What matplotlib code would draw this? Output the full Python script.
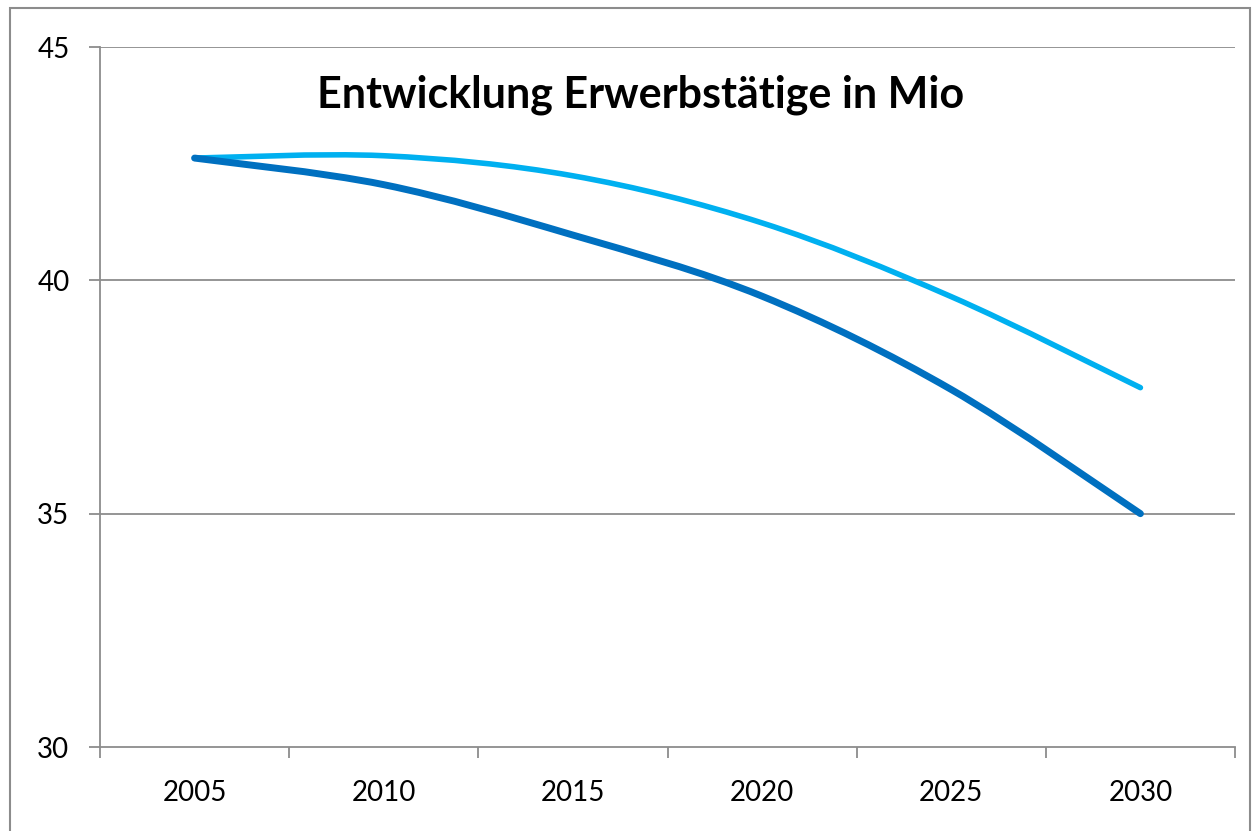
import numpy as np
import matplotlib
matplotlib.use('Agg')
import matplotlib.pyplot as plt
from matplotlib.path import Path
from matplotlib.patches import PathPatch, Rectangle

plt.rcParams['font.family'] = ['Lato', 'DejaVu Sans']

years = ['2005', '2010', '2015', '2020', '2025', '2030']
dunkel = [42.62, 42.05, 40.97, 39.66, 37.66, 35.0]
hell = [42.62, 42.67, 42.24, 41.23, 39.65, 37.70]

grey = '#8c8c8c'


def smooth_path(ys):
    # Excel-style smoothed line: cubic bezier through the points
    x = np.arange(len(ys), dtype=float)
    y = np.asarray(ys, dtype=float)
    px = np.concatenate([[x[0]], x, [x[-1]]])
    py = np.concatenate([[y[0]], y, [y[-1]]])
    verts = [(x[0], y[0])]
    codes = [Path.MOVETO]
    for i in range(len(x) - 1):
        c1 = (x[i] + (px[i + 2] - px[i]) / 6, y[i] + (py[i + 2] - py[i]) / 6)
        c2 = (x[i + 1] - (px[i + 3] - px[i + 1]) / 6, y[i + 1] - (py[i + 3] - py[i + 1]) / 6)
        verts += [c1, c2, (x[i + 1], y[i + 1])]
        codes += [Path.CURVE4] * 3
    return Path(verts, codes)


fig = plt.figure(figsize=(12.58, 8.31), dpi=100)
ax = fig.add_axes([100 / 1258, 1 - 747 / 831, 1135 / 1258, 700 / 831])

for ys, col, w in [(hell, '#00b0f0', 4.0), (dunkel, '#0070c0', 5.0)]:
    ax.add_patch(PathPatch(smooth_path(ys), fill=False, edgecolor=col,
                           lw=w, capstyle='round', joinstyle='round', zorder=3))

ax.set_xlim(-0.5, len(years) - 0.5)
ax.set_ylim(30, 45)

ax.set_yticks([30, 35, 40, 45])
ax.set_yticklabels(['30', '35', '40', '45'])
for v in [35, 40, 45]:
    ax.axhline(v, color=grey, lw=1.3, zorder=1)

ax.set_xticks(np.arange(-0.5, len(years), 1.0))
ax.set_xticklabels([])
ax.set_xticks(np.arange(len(years)), minor=True)
ax.set_xticklabels(years, minor=True)

ax.tick_params(axis='x', which='major', length=8, width=1.3, color=grey, direction='out')
ax.tick_params(axis='x', which='minor', length=0, pad=24, labelsize=20)
ax.tick_params(axis='y', length=8, width=1.3, color=grey, direction='out', pad=14, labelsize=20)

for s in ['top', 'right']:
    ax.spines[s].set_visible(False)
for s in ['left', 'bottom']:
    ax.spines[s].set_color(grey)
    ax.spines[s].set_linewidth(1.3)

fig.text(641 / 1258, 1 - 95 / 831, 'Entwicklung Erwerbstätige in Mio',
         ha='center', va='center', fontsize=31, fontweight='bold')

fig.patches.append(Rectangle((10 / 1258, -0.01), 1240 / 1258, 1 - 8 / 831 + 0.01,
                             transform=fig.transFigure, fill=False,
                             edgecolor=grey, lw=1.5))

fig.savefig('out.png', dpi=100)
